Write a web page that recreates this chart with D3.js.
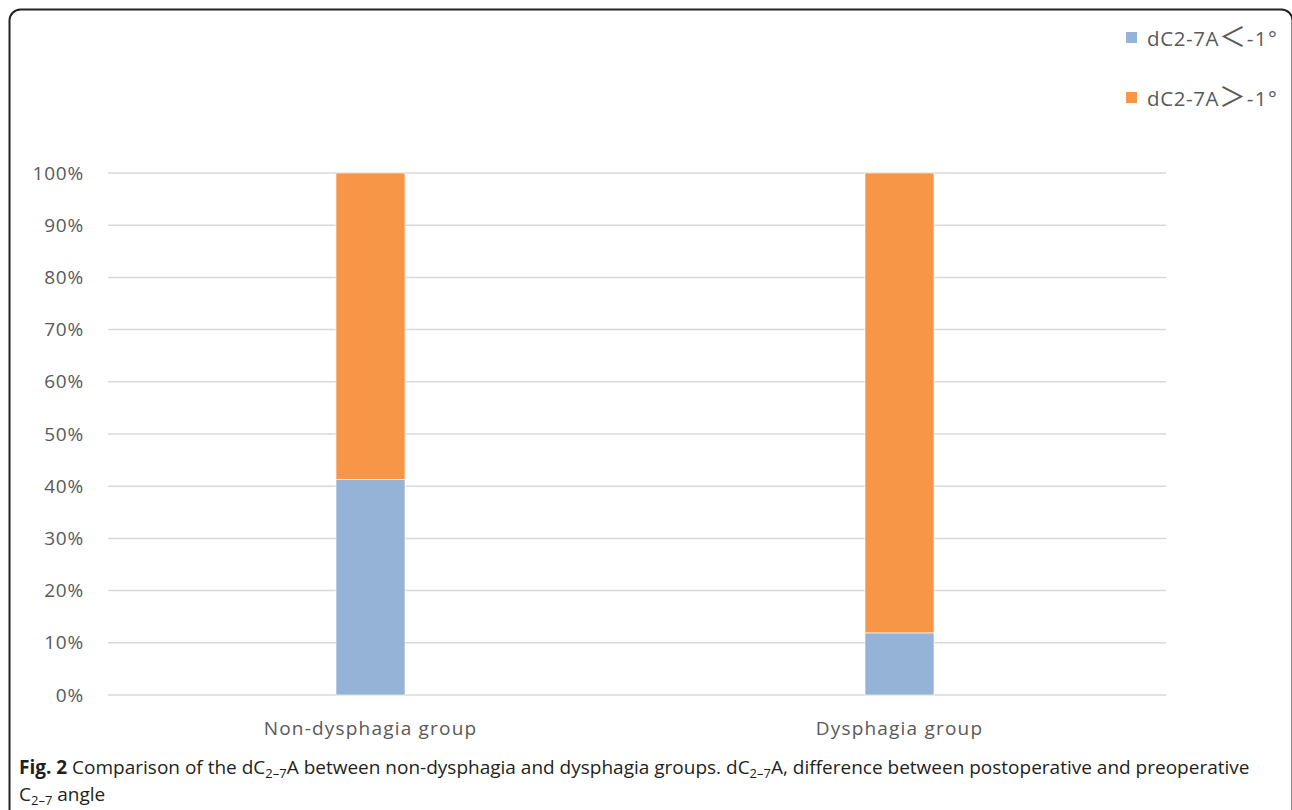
<!DOCTYPE html>
<html>
<head>
<meta charset="utf-8">
<script src="https://cdn.jsdelivr.net/npm/d3@7"></script>
<style>
  html, body { margin: 0; padding: 0; background: #fff; }
  svg { display: block; }
</style>
</head>
<body>
<svg id="chart" width="1292" height="810"></svg>
<script>
// Groups and the share of each dC2-7A class (percent of group)
const categories = ["Non-dysphagia group", "Dysphagia group"];
const seriesNames = [["dC2-7A", "＜", "-1°"], ["dC2-7A", "＞", "-1°"]];
const lowShare = [41.3, 11.9];      // dC2-7A < -1°
const highShare = [58.7, 88.1];     // dC2-7A > -1°
const tickValues = [0, 10, 20, 30, 40, 50, 60, 70, 80, 90, 100];
const seriesColors = ["#95b3d7", "#f79646"];

const svg = d3.select("#chart");
const font = "'Open Sans', 'Noto Sans', sans-serif";
const cjk = "'Noto Sans CJK SC', sans-serif";

// outer rounded frame
svg.append("rect")
  .attr("x", 9.5).attr("y", 9.5)
  .attr("width", 1283).attr("height", 840)
  .attr("rx", 11).attr("ry", 11)
  .attr("fill", "none").attr("stroke", "#222").attr("stroke-width", 2);

const plot = { left: 108, right: 1166, top: 173, bottom: 695 };

const x = d3.scaleBand().domain(categories).range([plot.left - 2, plot.right - 2]);
const y = d3.scaleLinear().domain([0, 100]).range([plot.bottom, plot.top]);

// gridlines
svg.append("g")
  .selectAll("line").data(tickValues).join("line")
  .attr("x1", plot.left).attr("x2", plot.right)
  .attr("y1", d => y(d)).attr("y2", d => y(d))
  .attr("stroke", "#d9d9d9").attr("stroke-width", 1.5);

// y axis labels
const yAxis = d3.axisLeft(y).tickValues(tickValues).tickFormat(d => d + "%").tickSize(0).tickPadding(0);
const yG = svg.append("g").attr("transform", `translate(84,0)`).call(yAxis);
yG.select(".domain").remove();
yG.selectAll("text")
  .attr("font-family", font).attr("font-size", 19).attr("fill", "#595959")
  .attr("letter-spacing", "0.8px");

// stacked bars
const rows = categories.map((c, i) => ({ cat: c, low: lowShare[i], high: highShare[i] }));
const stack = d3.stack().keys(["low", "high"])(rows);
const barW = 69;
svg.append("g").selectAll("g").data(stack).join("g")
  .attr("fill", (d, i) => seriesColors[i])
  .selectAll("rect").data(d => d).join("rect")
  .attr("x", d => x(d.data.cat) + x.bandwidth() / 2 - barW / 2)
  .attr("width", barW)
  .attr("y", d => y(d[1]))
  .attr("height", d => y(d[0]) - y(d[1]))
  .attr("stroke", "#fff").attr("stroke-width", 0.6);

// category labels
const xAxis = d3.axisBottom(x).tickSize(0).tickPadding(0);
const xG = svg.append("g").attr("transform", `translate(0,${plot.bottom})`).call(xAxis);
xG.select(".domain").remove();
xG.selectAll("text")
  .attr("y", 40).attr("dy", null)
  .attr("font-family", font).attr("font-size", 19).attr("fill", "#595959")
  .attr("letter-spacing", "1.2px");

// legend
const legend = svg.append("g").attr("transform", "translate(1126,32)");
seriesNames.forEach((parts, i) => {
  const g = legend.append("g").attr("transform", `translate(0,${i * 60})`);
  g.append("rect").attr("width", 11).attr("height", 11).attr("fill", seriesColors[i]);
  const t = g.append("text").attr("x", 21).attr("y", 14)
    .attr("font-family", font).attr("font-size", 20.5).attr("fill", "#595959")
    .attr("letter-spacing", "0.6px");
  t.append("tspan").text(parts[0]);
  t.append("tspan").attr("font-family", cjk).attr("font-size", 27).attr("dy", 1).text(parts[1]);
  t.append("tspan").attr("dy", -1).attr("letter-spacing", "1.5px").text(parts[2]);
});

// caption
const cap = svg.append("g").attr("font-family", font).attr("font-size", 19).attr("fill", "#231f20");
const l1 = cap.append("text").attr("x", 19).attr("y", 774);
l1.append("tspan").attr("font-weight", "bold").text("Fig. 2");
l1.append("tspan").text(" Comparison of the dC");
l1.append("tspan").attr("font-size", 13).attr("dy", 4).text("2–7");
l1.append("tspan").attr("dy", -4).text("A between non-dysphagia and dysphagia groups. dC");
l1.append("tspan").attr("font-size", 13).attr("dy", 4).text("2–7");
l1.append("tspan").attr("dy", -4).text("A, difference between postoperative and preoperative");
const l2 = cap.append("text").attr("x", 19).attr("y", 801);
l2.append("tspan").text("C");
l2.append("tspan").attr("font-size", 13).attr("dy", 4).text("2–7");
l2.append("tspan").attr("dy", -4).text(" angle");
</script>
</body>
</html>
